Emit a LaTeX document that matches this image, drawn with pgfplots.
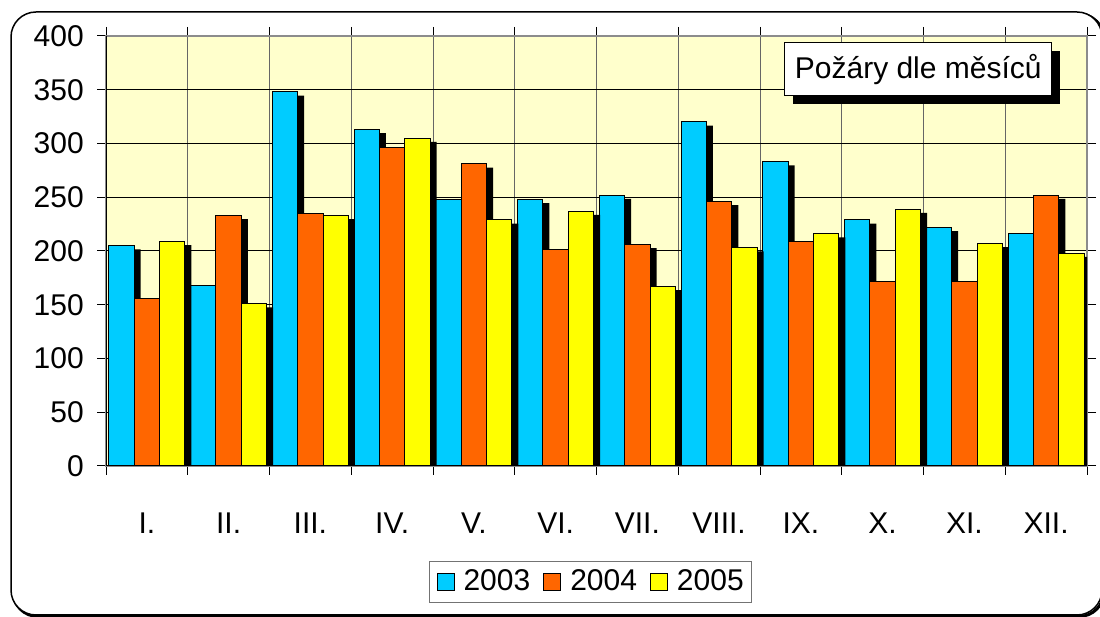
\documentclass[border=0pt]{standalone}
\usepackage{pgfplots}
\pgfplotsset{compat=1.18}
\usepackage{fontspec}
\setmainfont{Liberation Sans}
\usetikzlibrary{shadows}
\definecolor{cA}{HTML}{00CCFF}
\definecolor{cB}{HTML}{FF6600}
\definecolor{cC}{HTML}{FFFF00}
\definecolor{bgy}{HTML}{FFFFCC}
\begin{document}
\fontsize{30}{36}\selectfont
\begin{tikzpicture}[x=1pt,y=1pt]
\path[use as bounding box] (0,0) rectangle (1100,617);
\draw[line width=3pt, rounded corners=25pt] (13,0.5) rectangle (1104,603);
\draw[line width=1.5pt, rounded corners=25pt, fill=white] (11,2) rectangle (1102,605);
\begin{axis}[at={(106pt,151pt)}, anchor=south west, scale only axis,
  width=981pt, height=430pt,
  xmin=0.5, xmax=12.5, ymin=0, ymax=400, ytick={0,50,...,400},
  xtick={1,...,12},
  xticklabels={I.,II.,III.,IV.,V.,VI.,VII.,VIII.,IX.,X.,XI.,XII.},
  minor xtick={0.5,1.5,...,12.5},
  major x tick style={draw=none},
  ymajorgrids, xminorgrids,
  y grid style={black, line width=1pt},
  minor x grid style={black!60, line width=1pt},
  tick align=outside, major tick length=9pt, minor tick length=9pt,
  tick style={black, line width=1pt},
  axis background/.style={fill=bgy},
  axis line style={black!45, line width=1.5pt},
  ybar=0pt, bar width=0.31,
  /pgf/number format/assume math mode=true,
  ticklabel style={font=\fontsize{30}{36}\selectfont},
  yticklabel style={xshift=-3pt},
  xticklabel style={yshift=-28pt},
  legend image code/.code={\draw[#1, line width=1pt] (0pt,-8.5pt) rectangle (17pt,8.5pt); \path (-1pt,0pt) (24pt,0pt);},
  legend style={at={(0.494,-0.27)}, anchor=center, draw=black!55, line width=1pt, fill=white,
    font=\fontsize{30}{36}\selectfont, legend columns=-1,
    /tikz/every even column/.append style={column sep=10pt}, inner xsep=6pt, inner ysep=6pt},
  shadowed/.style={preaction={fill=black, draw=none, transform canvas={xshift=6.5pt, yshift=-3.7pt}}},
]
\addplot[forget plot, fill=cA, draw=black, line width=1pt, bar shift=-0.31, shadowed] coordinates {
(1,205) (2,168) (3,348) (4,313) (5,248) (6,248) (7,252) (8,320) (9,283) (10,229) (11,222) (12,216)};
\addplot[forget plot, fill=cB, draw=black, line width=1pt, bar shift=0, shadowed] coordinates {
(1,156) (2,233) (3,235) (4,296) (5,281) (6,201) (7,206) (8,246) (9,209) (10,172) (11,172) (12,252)};
\addplot[forget plot, fill=cC, draw=black, line width=1pt, bar shift=0.31, shadowed] coordinates {
(1,209) (2,151) (3,233) (4,305) (5,229) (6,237) (7,167) (8,203) (9,216) (10,239) (11,207) (12,198)};
\addlegendimage{fill=cA, draw=black}
\addlegendimage{fill=cB, draw=black}
\addlegendimage{fill=cC, draw=black}
\legend{2003,2004,2005}
\draw[black, line width=1.5pt] (rel axis cs:0,1) -- (rel axis cs:0,0) -- (rel axis cs:1,0);
\node[draw=black, line width=1pt, fill=white, minimum width=252pt, minimum height=53pt,
  general shadow={fill=black, shadow xshift=8pt, shadow yshift=-8pt},
  font=\fontsize{30}{36}\selectfont] at (rel axis cs:0.828,0.923) {Požáry dle měsíců};
\end{axis}
\end{tikzpicture}
\end{document}
